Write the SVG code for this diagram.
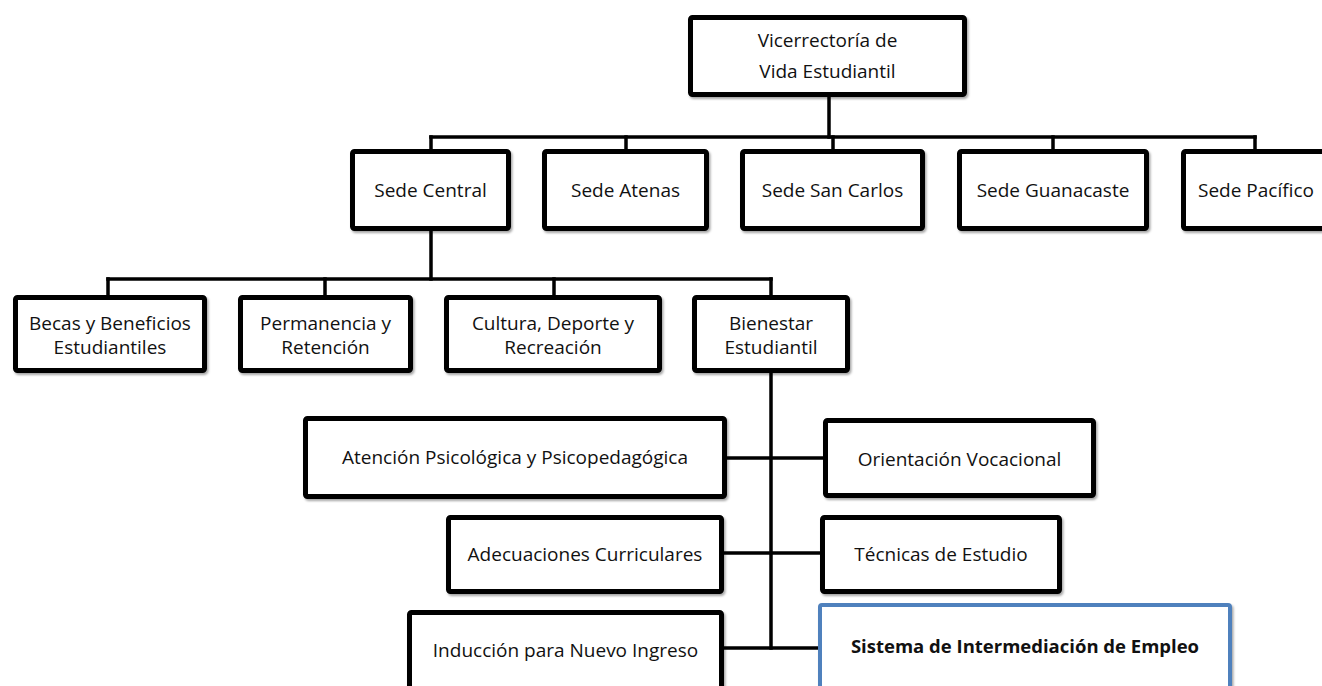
<svg xmlns="http://www.w3.org/2000/svg" width="1322" height="686" viewBox="0 0 1322 686">
  <style>
    .box { fill: #ffffff; stroke: #000000; stroke-width: 5; filter: url(#shadow); }
    .hl { fill: #ffffff; stroke: #4f81bd; stroke-width: 4; filter: url(#shadow); }
    .lbl { font-family: "Open Sans", "Noto Sans", sans-serif; font-size: 19px; fill: #111111; text-anchor: middle; }
    .bold { font-weight: bold; font-size: 18.5px; }
    .wire { stroke: #000000; stroke-width: 3.5; fill: none; stroke-linecap: square; }
  </style>
  <defs>
    <filter id="shadow" x="-5%" y="-10%" width="115%" height="130%">
      <feDropShadow dx="1.5" dy="2" stdDeviation="1.2" flood-color="#000000" flood-opacity="0.35"/>
    </filter>
  </defs>
  <rect width="1322" height="686" fill="#ffffff"/>

  <!-- connectors -->
  <g id="connectors" class="wire">
    <path d="M829 97 V137"/>
    <path d="M431 137 H1255"/>
    <path d="M431 137 V149 M626 137 V149 M833 137 V149 M1053 137 V149 M1255 137 V149"/>
    <path d="M431 231 V279"/>
    <path d="M108 279 H771"/>
    <path d="M108 279 V295 M325 279 V295 M554 279 V295 M771 279 V295"/>
    <path d="M771 373 V648"/>
    <path d="M727 458 H823"/>
    <path d="M724 553 H820"/>
    <path d="M724 648 H818"/>
  </g>

  <g id="n-vicerrectoria">
    <rect class="box" x="690.5" y="17.5" width="274" height="77" rx="2"/>
    <text class="lbl" x="827.5" y="47">Vicerrectoría de</text>
    <text class="lbl" x="827.5" y="78">Vida Estudiantil</text>
  </g>

  <g id="n-sede-central">
    <rect class="box" x="352.5" y="151.5" width="156" height="77" rx="2"/>
    <text class="lbl" x="430.5" y="197">Sede Central</text>
  </g>
  <g id="n-sede-atenas">
    <rect class="box" x="544.5" y="151.5" width="162" height="77" rx="2"/>
    <text class="lbl" x="625.5" y="197">Sede Atenas</text>
  </g>
  <g id="n-sede-san-carlos">
    <rect class="box" x="742.5" y="151.5" width="180" height="77" rx="2"/>
    <text class="lbl" x="832.5" y="197">Sede San Carlos</text>
  </g>
  <g id="n-sede-guanacaste">
    <rect class="box" x="959.5" y="151.5" width="187" height="77" rx="2"/>
    <text class="lbl" x="1053" y="197">Sede Guanacaste</text>
  </g>
  <g id="n-sede-pacifico">
    <rect class="box" x="1183.5" y="151.5" width="160" height="77" rx="2"/>
    <text class="lbl" x="1256" y="197">Sede Pacífico</text>
  </g>

  <g id="n-becas">
    <rect class="box" x="15.5" y="297.5" width="189" height="73" rx="2"/>
    <text class="lbl" x="110" y="330">Becas y Beneficios</text>
    <text class="lbl" x="110" y="354">Estudiantiles</text>
  </g>
  <g id="n-permanencia">
    <rect class="box" x="240.5" y="297.5" width="170" height="73" rx="2"/>
    <text class="lbl" x="325.5" y="330">Permanencia y</text>
    <text class="lbl" x="325.5" y="354">Retención</text>
  </g>
  <g id="n-cultura">
    <rect class="box" x="446.5" y="297.5" width="213" height="73" rx="2"/>
    <text class="lbl" x="553" y="330">Cultura, Deporte y</text>
    <text class="lbl" x="553" y="354">Recreación</text>
  </g>
  <g id="n-bienestar">
    <rect class="box" x="694.5" y="297.5" width="153" height="73" rx="2"/>
    <text class="lbl" x="771" y="330">Bienestar</text>
    <text class="lbl" x="771" y="354">Estudiantil</text>
  </g>

  <g id="n-atencion">
    <rect class="box" x="305.5" y="418.5" width="419" height="78" rx="2"/>
    <text class="lbl" x="515" y="464">Atención Psicológica y Psicopedagógica</text>
  </g>
  <g id="n-orientacion">
    <rect class="box" x="825.5" y="420.5" width="268" height="75" rx="2"/>
    <text class="lbl" x="959.5" y="466">Orientación Vocacional</text>
  </g>
  <g id="n-adecuaciones">
    <rect class="box" x="448.5" y="517.5" width="273" height="74" rx="2"/>
    <text class="lbl" x="585" y="561">Adecuaciones Curriculares</text>
  </g>
  <g id="n-tecnicas">
    <rect class="box" x="822.5" y="517.5" width="237" height="74" rx="2"/>
    <text class="lbl" x="941" y="561">Técnicas de Estudio</text>
  </g>
  <g id="n-induccion">
    <rect class="box" x="409.5" y="612.5" width="312" height="90" rx="2"/>
    <text class="lbl" x="565.5" y="657">Inducción para Nuevo Ingreso</text>
  </g>
  <g id="n-sistema">
    <rect class="hl" x="820" y="605" width="410" height="95" rx="2"/>
    <text class="lbl bold" x="1025" y="653">Sistema de Intermediación de Empleo</text>
  </g>
</svg>
